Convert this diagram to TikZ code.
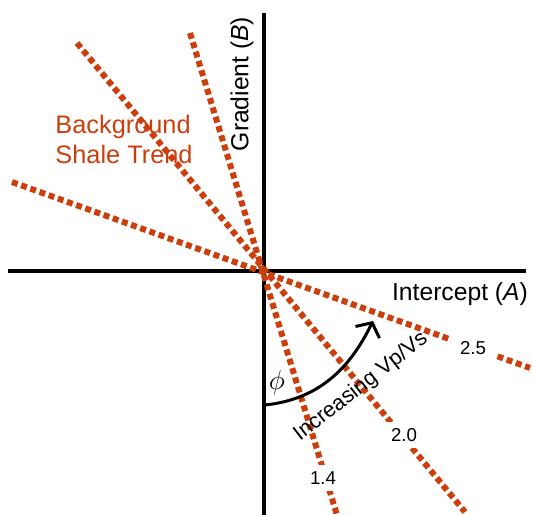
\documentclass[tikz,border=0pt]{standalone}
\usepackage{fontspec}
\setmainfont{Liberation Sans}
\usepackage{tikz}
\usetikzlibrary{arrows.meta,positioning}
\definecolor{shaleorange}{HTML}{CC3F0C}
\tikzset{
  axisline/.style={line width=3pt,black},
  trendline/.style={line width=4.5pt,shaleorange,dash pattern=on 4.5pt off 2.8pt,line cap=butt},
  axislabel/.style={font=\fontsize{18.5}{22}\selectfont,inner sep=0pt},
  ratiolabel/.style={font=\fontsize{14}{17}\selectfont,fill=white,inner sep=5pt},
  sweep/.style={-{Straight Barb[length=8pt,width=20pt,line width=2.25pt]},line width=2.25pt},
}

\begin{document}
\begin{tikzpicture}[x=0.75pt,y=0.75pt]
    \useasboundingbox (-264,-244) rectangle (269,271);
    % axes
    \coordinate (o) at (0,0);
    \coordinate (xl) at (-256,0);\coordinate (xr) at (262,0);
    \coordinate (yt) at (0,258);\coordinate (yb) at (0,-244);
    \draw[axisline] (xl)--(xr);
    \draw[axisline] (yt)--(yb);
    % trends through the origin
    \coordinate (t14a) at (-74,238);\coordinate (t14b) at (73,-244);
    \coordinate (t20a) at (-187,228);\coordinate (t20b) at (201,-241);
    \coordinate (t25a) at (-252,89);\coordinate (t25b) at (266,-97);
    \draw[trendline] (t14a)--(t14b);
    \draw[trendline] (t20a)--(t20b);
    \draw[trendline] (t25a)--(t25b);
    % labels
    \node[axislabel,rotate=90] (grad) at (-22,187) {Gradient (\textit{B})};
    \node[axislabel] (icpt) at (196,-23) {Intercept (\textit{A})};
    \node[axislabel,font=\fontsize{19}{22.5}\selectfont,text=shaleorange,align=left] (shale) at (-140,132) {Background\\Shale Trend};
    \node[ratiolabel] (r14) at (59,-207) {1.4};
    \node[ratiolabel] (r20) at (140,-164) {2.0};
    \node[ratiolabel,inner xsep=7pt] (r25) at (209,-77) {2.5};
    \node[font=\fontsize{16.2}{19}\selectfont,rotate=38,inner sep=0pt] (vpvs) at (97,-116) {Increasing Vp/Vs};
    \node[font=\fontsize{20}{23}\selectfont,inner sep=0pt] (phi) at (13,-112) {$\phi$};
    % sweep of phi
    \coordinate (s0) at (1,-134);\coordinate (s1) at (109,-50);
    \draw[sweep] (s0) to[out=6,in=-116] (s1);
  \end{tikzpicture}
\end{document}
